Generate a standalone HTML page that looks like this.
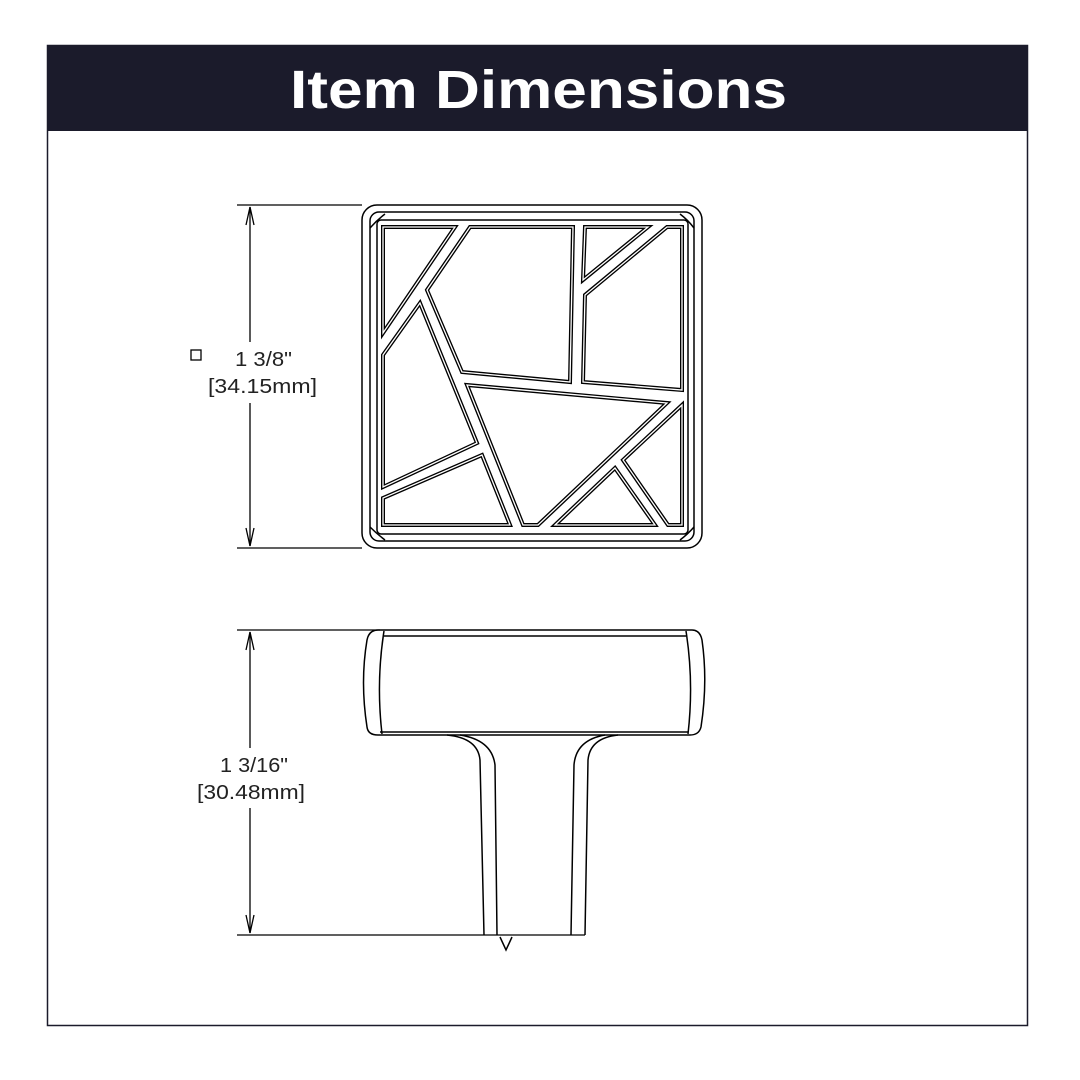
<!DOCTYPE html>
<html><head><style>
body{margin:0;background:#fff;}
svg{display:block;}
</style></head><body>
<svg width="1080" height="1080" viewBox="0 0 1080 1080" xmlns="http://www.w3.org/2000/svg">
<rect x="0" y="0" width="1080" height="1080" fill="#fff"/>
<rect x="47.5" y="45.5" width="980" height="980" fill="none" stroke="#1b1b2b" stroke-width="1.5"/>
<rect x="47" y="45" width="981" height="86" fill="#1b1b2b"/>
<text x="290" y="108" textLength="497" lengthAdjust="spacingAndGlyphs" fill="#fff" font-family="Liberation Sans, sans-serif" font-weight="bold" font-size="54">Item Dimensions</text>

<g fill="none" stroke="#000" stroke-width="1.3">
<!-- top dimension -->
<line x1="237" y1="205" x2="362" y2="205"/>
<line x1="237" y1="548" x2="362" y2="548"/>
<line x1="250" y1="207" x2="250" y2="342"/>
<line x1="250" y1="403" x2="250" y2="546"/>
<path d="M246,225 L250,207 L254,225 M246,528 L250,546 L254,528"/>
<rect x="191" y="350" width="10" height="10"/>
<!-- side dimension -->
<line x1="237" y1="630" x2="380" y2="630"/>
<line x1="237" y1="935" x2="585" y2="935"/>
<line x1="250" y1="632" x2="250" y2="748"/>
<line x1="250" y1="808" x2="250" y2="933"/>
<path d="M246,650 L250,632 L254,650 M246,915 L250,933 L254,915"/>
</g>
<g font-family="Liberation Sans, sans-serif" font-size="20" fill="#222">
<text x="235" y="366" textLength="57" lengthAdjust="spacingAndGlyphs">1 3/8"</text>
<text x="208" y="393" textLength="109" lengthAdjust="spacingAndGlyphs">[34.15mm]</text>
<text x="220" y="772" textLength="68" lengthAdjust="spacingAndGlyphs">1 3/16"</text>
<text x="197" y="799" textLength="108" lengthAdjust="spacingAndGlyphs">[30.48mm]</text>
</g>

<!-- top view -->
<g fill="none" stroke="#000" stroke-width="1.5">
<rect x="362" y="205" width="340" height="343" rx="15"/>
<rect x="370" y="212" width="324" height="329" rx="9"/>
<rect x="377" y="220" width="311" height="314" rx="4"/>
<path d="M370,228 Q377,220 385,214 M694,228 Q688,220 680,214 M370,527 Q377,534 385,540 M694,527 Q688,534 680,540"/>
</g>
<g fill="none" stroke="#000" stroke-width="4" stroke-linejoin="miter">
<polygon points="383,227 455,227 383,333"/>
<polygon points="470,227 573,227 570,382 462,372 427,290"/>
<polygon points="585,227 648,227 583,280"/>
<polygon points="667,227 682,227 682,390 583,382 585,295"/>
<polygon points="420,303 477,443 383,487 383,355"/>
<polygon points="482,455 510,525 383,525 383,498"/>
<polygon points="467,385 667,403 538,525 523,525"/>
<polygon points="682,405 682,525 668,525 623,460"/>
<polygon points="615,468 655,525 555,525"/>
</g>
<g fill="none" stroke="#fff" stroke-width="1.3" stroke-linejoin="miter">
<polygon points="383,227 455,227 383,333"/>
<polygon points="470,227 573,227 570,382 462,372 427,290"/>
<polygon points="585,227 648,227 583,280"/>
<polygon points="667,227 682,227 682,390 583,382 585,295"/>
<polygon points="420,303 477,443 383,487 383,355"/>
<polygon points="482,455 510,525 383,525 383,498"/>
<polygon points="467,385 667,403 538,525 523,525"/>
<polygon points="682,405 682,525 668,525 623,460"/>
<polygon points="615,468 655,525 555,525"/>
</g>

<!-- side view -->
<g fill="none" stroke="#000" stroke-width="1.5">
<path d="M378,630 L692,630 Q700,630 702,640 Q708,682 701,727 Q699,735 690,735 L378,735 Q368,735 367,727 Q360,682 367,640 Q369,630 378,630 Z"/>
<line x1="384" y1="636" x2="686" y2="636"/>
<line x1="380" y1="732" x2="688" y2="732"/>
<path d="M384,631 Q376,682 382,734"/>
<path d="M686,631 Q694,682 688,734"/>
<path d="M447,735 Q478,738 480,760 L484,935"/>
<path d="M460,735 Q492,740 495,765 L497,935"/>
<path d="M618,735 Q590,738 588,760 L585,935"/>
<path d="M605,735 Q576,740 574,765 L571,935"/>
<path d="M500,937 L506,950 L512,937"/>
</g>
</svg>
</body></html>
